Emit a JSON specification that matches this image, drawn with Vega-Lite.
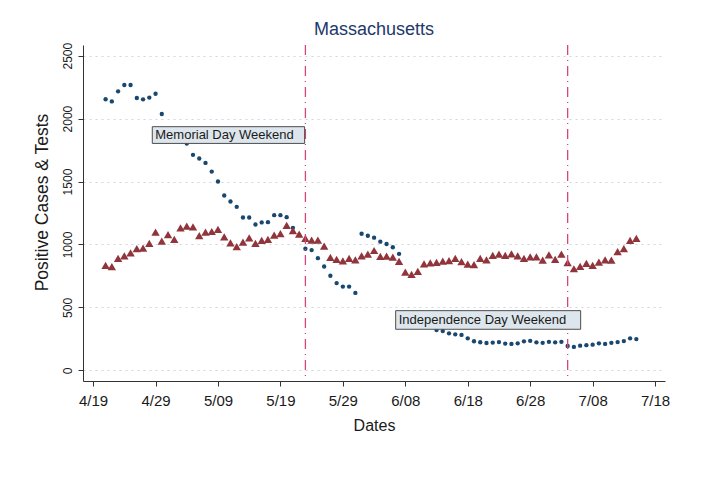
{
  "$schema": "https://vega.github.io/schema/vega-lite/v6.json",
  "width": 582,
  "height": 336,
  "autosize": {"type": "none"},
  "padding": {"left": 83, "top": 45, "right": 51, "bottom": 103},
  "background": "white",
  "config": {"view": {"stroke": null}, "font": "Liberation Sans"},
  "title": {"text": "Massachusetts", "fontSize": 18, "font": "Liberation Sans", "fontWeight": "normal", "color": "#22386a", "anchor": "middle", "offset": 3},
  "datasets": {
    "series": [
      {"d": "2020/04/21", "s": "cases", "v": 2154},
      {"d": "2020/04/22", "s": "cases", "v": 2137},
      {"d": "2020/04/23", "s": "cases", "v": 2217},
      {"d": "2020/04/24", "s": "cases", "v": 2267},
      {"d": "2020/04/25", "s": "cases", "v": 2267},
      {"d": "2020/04/26", "s": "cases", "v": 2164},
      {"d": "2020/04/27", "s": "cases", "v": 2153},
      {"d": "2020/04/28", "s": "cases", "v": 2167},
      {"d": "2020/04/29", "s": "cases", "v": 2198},
      {"d": "2020/04/30", "s": "cases", "v": 2037},
      {"d": "2020/05/04", "s": "cases", "v": 1802},
      {"d": "2020/05/05", "s": "cases", "v": 1712},
      {"d": "2020/05/06", "s": "cases", "v": 1683},
      {"d": "2020/05/07", "s": "cases", "v": 1648},
      {"d": "2020/05/08", "s": "cases", "v": 1579},
      {"d": "2020/05/09", "s": "cases", "v": 1500},
      {"d": "2020/05/10", "s": "cases", "v": 1389},
      {"d": "2020/05/11", "s": "cases", "v": 1341},
      {"d": "2020/05/12", "s": "cases", "v": 1299},
      {"d": "2020/05/13", "s": "cases", "v": 1214},
      {"d": "2020/05/14", "s": "cases", "v": 1214},
      {"d": "2020/05/15", "s": "cases", "v": 1159},
      {"d": "2020/05/16", "s": "cases", "v": 1175},
      {"d": "2020/05/17", "s": "cases", "v": 1177},
      {"d": "2020/05/18", "s": "cases", "v": 1233},
      {"d": "2020/05/19", "s": "cases", "v": 1233},
      {"d": "2020/05/20", "s": "cases", "v": 1217},
      {"d": "2020/05/21", "s": "cases", "v": 1132},
      {"d": "2020/05/22", "s": "cases", "v": 1074},
      {"d": "2020/05/23", "s": "cases", "v": 966},
      {"d": "2020/05/24", "s": "cases", "v": 955},
      {"d": "2020/05/25", "s": "cases", "v": 891},
      {"d": "2020/05/26", "s": "cases", "v": 825},
      {"d": "2020/05/27", "s": "cases", "v": 751},
      {"d": "2020/05/28", "s": "cases", "v": 693},
      {"d": "2020/05/29", "s": "cases", "v": 665},
      {"d": "2020/05/30", "s": "cases", "v": 665},
      {"d": "2020/05/31", "s": "cases", "v": 615},
      {"d": "2020/06/01", "s": "cases", "v": 1085},
      {"d": "2020/06/02", "s": "cases", "v": 1069},
      {"d": "2020/06/03", "s": "cases", "v": 1054},
      {"d": "2020/06/04", "s": "cases", "v": 1022},
      {"d": "2020/06/05", "s": "cases", "v": 1004},
      {"d": "2020/06/06", "s": "cases", "v": 978},
      {"d": "2020/06/07", "s": "cases", "v": 925},
      {"d": "2020/06/13", "s": "cases", "v": 320},
      {"d": "2020/06/14", "s": "cases", "v": 312},
      {"d": "2020/06/15", "s": "cases", "v": 294},
      {"d": "2020/06/16", "s": "cases", "v": 286},
      {"d": "2020/06/17", "s": "cases", "v": 281},
      {"d": "2020/06/18", "s": "cases", "v": 254},
      {"d": "2020/06/19", "s": "cases", "v": 231},
      {"d": "2020/06/20", "s": "cases", "v": 223},
      {"d": "2020/06/21", "s": "cases", "v": 217},
      {"d": "2020/06/22", "s": "cases", "v": 220},
      {"d": "2020/06/23", "s": "cases", "v": 224},
      {"d": "2020/06/24", "s": "cases", "v": 212},
      {"d": "2020/06/25", "s": "cases", "v": 210},
      {"d": "2020/06/26", "s": "cases", "v": 214},
      {"d": "2020/06/27", "s": "cases", "v": 230},
      {"d": "2020/06/28", "s": "cases", "v": 234},
      {"d": "2020/06/29", "s": "cases", "v": 222},
      {"d": "2020/06/30", "s": "cases", "v": 218},
      {"d": "2020/07/01", "s": "cases", "v": 226},
      {"d": "2020/07/02", "s": "cases", "v": 222},
      {"d": "2020/07/03", "s": "cases", "v": 226},
      {"d": "2020/07/04", "s": "cases", "v": 193},
      {"d": "2020/07/05", "s": "cases", "v": 186},
      {"d": "2020/07/06", "s": "cases", "v": 196},
      {"d": "2020/07/07", "s": "cases", "v": 200},
      {"d": "2020/07/08", "s": "cases", "v": 204},
      {"d": "2020/07/09", "s": "cases", "v": 214},
      {"d": "2020/07/10", "s": "cases", "v": 210},
      {"d": "2020/07/11", "s": "cases", "v": 218},
      {"d": "2020/07/12", "s": "cases", "v": 224},
      {"d": "2020/07/13", "s": "cases", "v": 232},
      {"d": "2020/07/14", "s": "cases", "v": 254},
      {"d": "2020/07/15", "s": "cases", "v": 248},
      {"d": "2020/04/21", "s": "tests", "v": 833},
      {"d": "2020/04/22", "s": "tests", "v": 823},
      {"d": "2020/04/23", "s": "tests", "v": 889},
      {"d": "2020/04/24", "s": "tests", "v": 910},
      {"d": "2020/04/25", "s": "tests", "v": 934},
      {"d": "2020/04/26", "s": "tests", "v": 966},
      {"d": "2020/04/27", "s": "tests", "v": 971},
      {"d": "2020/04/28", "s": "tests", "v": 1008},
      {"d": "2020/04/29", "s": "tests", "v": 1098},
      {"d": "2020/04/30", "s": "tests", "v": 1026},
      {"d": "2020/05/01", "s": "tests", "v": 1079},
      {"d": "2020/05/02", "s": "tests", "v": 1040},
      {"d": "2020/05/03", "s": "tests", "v": 1132},
      {"d": "2020/05/04", "s": "tests", "v": 1145},
      {"d": "2020/05/05", "s": "tests", "v": 1140},
      {"d": "2020/05/06", "s": "tests", "v": 1071},
      {"d": "2020/05/07", "s": "tests", "v": 1098},
      {"d": "2020/05/08", "s": "tests", "v": 1103},
      {"d": "2020/05/09", "s": "tests", "v": 1119},
      {"d": "2020/05/10", "s": "tests", "v": 1061},
      {"d": "2020/05/11", "s": "tests", "v": 1013},
      {"d": "2020/05/12", "s": "tests", "v": 982},
      {"d": "2020/05/13", "s": "tests", "v": 1018},
      {"d": "2020/05/14", "s": "tests", "v": 1053},
      {"d": "2020/05/15", "s": "tests", "v": 1008},
      {"d": "2020/05/16", "s": "tests", "v": 1032},
      {"d": "2020/05/17", "s": "tests", "v": 1040},
      {"d": "2020/05/18", "s": "tests", "v": 1074},
      {"d": "2020/05/19", "s": "tests", "v": 1087},
      {"d": "2020/05/20", "s": "tests", "v": 1151},
      {"d": "2020/05/21", "s": "tests", "v": 1109},
      {"d": "2020/05/22", "s": "tests", "v": 1082},
      {"d": "2020/05/23", "s": "tests", "v": 1048},
      {"d": "2020/05/24", "s": "tests", "v": 1034},
      {"d": "2020/05/25", "s": "tests", "v": 1034},
      {"d": "2020/05/26", "s": "tests", "v": 987},
      {"d": "2020/05/27", "s": "tests", "v": 897},
      {"d": "2020/05/28", "s": "tests", "v": 881},
      {"d": "2020/05/29", "s": "tests", "v": 870},
      {"d": "2020/05/30", "s": "tests", "v": 889},
      {"d": "2020/05/31", "s": "tests", "v": 878},
      {"d": "2020/06/01", "s": "tests", "v": 910},
      {"d": "2020/06/02", "s": "tests", "v": 923},
      {"d": "2020/06/03", "s": "tests", "v": 952},
      {"d": "2020/06/04", "s": "tests", "v": 905},
      {"d": "2020/06/05", "s": "tests", "v": 907},
      {"d": "2020/06/06", "s": "tests", "v": 899},
      {"d": "2020/06/07", "s": "tests", "v": 865},
      {"d": "2020/06/08", "s": "tests", "v": 780},
      {"d": "2020/06/09", "s": "tests", "v": 762},
      {"d": "2020/06/10", "s": "tests", "v": 786},
      {"d": "2020/06/11", "s": "tests", "v": 845},
      {"d": "2020/06/12", "s": "tests", "v": 854},
      {"d": "2020/06/13", "s": "tests", "v": 858},
      {"d": "2020/06/14", "s": "tests", "v": 868},
      {"d": "2020/06/15", "s": "tests", "v": 871},
      {"d": "2020/06/16", "s": "tests", "v": 889},
      {"d": "2020/06/17", "s": "tests", "v": 863},
      {"d": "2020/06/18", "s": "tests", "v": 844},
      {"d": "2020/06/19", "s": "tests", "v": 839},
      {"d": "2020/06/20", "s": "tests", "v": 889},
      {"d": "2020/06/21", "s": "tests", "v": 878},
      {"d": "2020/06/22", "s": "tests", "v": 913},
      {"d": "2020/06/23", "s": "tests", "v": 923},
      {"d": "2020/06/24", "s": "tests", "v": 913},
      {"d": "2020/06/25", "s": "tests", "v": 926},
      {"d": "2020/06/26", "s": "tests", "v": 910},
      {"d": "2020/06/27", "s": "tests", "v": 889},
      {"d": "2020/06/28", "s": "tests", "v": 902},
      {"d": "2020/06/29", "s": "tests", "v": 902},
      {"d": "2020/06/30", "s": "tests", "v": 875},
      {"d": "2020/07/01", "s": "tests", "v": 918},
      {"d": "2020/07/02", "s": "tests", "v": 881},
      {"d": "2020/07/03", "s": "tests", "v": 923},
      {"d": "2020/07/04", "s": "tests", "v": 855},
      {"d": "2020/07/05", "s": "tests", "v": 807},
      {"d": "2020/07/06", "s": "tests", "v": 825},
      {"d": "2020/07/07", "s": "tests", "v": 849},
      {"d": "2020/07/08", "s": "tests", "v": 833},
      {"d": "2020/07/09", "s": "tests", "v": 860},
      {"d": "2020/07/10", "s": "tests", "v": 878},
      {"d": "2020/07/11", "s": "tests", "v": 875},
      {"d": "2020/07/12", "s": "tests", "v": 944},
      {"d": "2020/07/13", "s": "tests", "v": 966},
      {"d": "2020/07/14", "s": "tests", "v": 1032},
      {"d": "2020/07/15", "s": "tests", "v": 1048}
    ],
    "events": [
      {"d": "2020/05/23"},
      {"d": "2020/07/04"}
    ],
    "notes": [
      {"start": "2020/04/28 11:30", "end": "2020/05/22 21:00", "top": 1936, "bottom": 1803, "mid": 1870, "label": "Memorial Day Weekend"},
      {"start": "2020/06/06 11:00", "end": "2020/07/06 02:00", "top": 474, "bottom": 326, "mid": 400, "label": "Independence Day Weekend"}
    ]
  },
  "layer": [
    {
      "data": {"name": "series"},
      "mark": {"type": "point", "filled": true, "opacity": 1},
      "encoding": {
        "x": {
          "field": "d", "type": "temporal",
          "scale": {"domain": [{"year": 2020, "month": "apr", "date": 17, "hours": 9, "minutes": 10}, {"year": 2020, "month": "jul", "date": 19, "hours": 14, "minutes": 10}], "nice": false},
          "axis": {
            "title": "Dates", "titleFont": "Liberation Sans", "titleFontSize": 16, "titleFontWeight": "normal", "titleColor": "#1a1a1a",
            "titleBaseline": "alphabetic", "titleY": 49,
            "values": [
              {"year": 2020, "month": "apr", "date": 19},
              {"year": 2020, "month": "apr", "date": 29},
              {"year": 2020, "month": "may", "date": 9},
              {"year": 2020, "month": "may", "date": 19},
              {"year": 2020, "month": "may", "date": 29},
              {"year": 2020, "month": "jun", "date": 8},
              {"year": 2020, "month": "jun", "date": 18},
              {"year": 2020, "month": "jun", "date": 28},
              {"year": 2020, "month": "jul", "date": 8},
              {"year": 2020, "month": "jul", "date": 18}
            ],
            "format": "%-m/%d", "labelFont": "Liberation Sans", "labelFontSize": 15, "labelColor": "#1a1a1a",
            "labelPadding": 7, "tickSize": 5, "tickColor": "#333333", "domainColor": "#333333",
            "labelFlush": false, "labelOverlap": false, "grid": false
          }
        },
        "y": {
          "field": "v", "type": "quantitative",
          "scale": {"domain": [-85, 2585], "nice": false, "zero": false},
          "axis": {
            "title": "Positive Cases & Tests", "titleFont": "Liberation Sans", "titleFontSize": 17.5, "titleFontWeight": "normal", "titleColor": "#1a1a1a",
            "titleAngle": 270, "titleAlign": "center", "titleBaseline": "bottom", "titleX": -32, "titleY": 157,
            "values": [0, 500, 1000, 1500, 2000, 2500], "format": "d",
            "labelAngle": 270, "labelAlign": "center", "labelBaseline": "bottom", "labelPadding": 4,
            "labelFont": "Liberation Sans", "labelFontSize": 12, "labelColor": "#1a1a1a",
            "tickSize": 5, "tickColor": "#333333", "domainColor": "#333333",
            "grid": true, "gridColor": "#cdd6e0", "gridDash": [2, 4], "gridWidth": 1,
            "labelFlush": false, "labelOverlap": false
          }
        },
        "shape": {"field": "s", "type": "nominal", "scale": {"domain": ["cases", "tests"], "range": ["circle", "triangle-up"]}, "legend": null},
        "color": {"field": "s", "type": "nominal", "scale": {"domain": ["cases", "tests"], "range": ["#1a476f", "#90353b"]}, "legend": null},
        "size": {"field": "s", "type": "nominal", "scale": {"domain": ["cases", "tests"], "range": [19, 70]}, "legend": null}
      }
    },
    {
      "data": {"name": "events"},
      "mark": {"type": "rule", "color": "#d6457c", "strokeWidth": 1.3, "strokeDash": [10, 5, 1, 5]},
      "encoding": {
        "x": {"field": "d", "type": "temporal", "scale": {"domain": [{"year": 2020, "month": "apr", "date": 17, "hours": 9, "minutes": 10}, {"year": 2020, "month": "jul", "date": 19, "hours": 14, "minutes": 10}], "nice": false}}
      }
    },
    {
      "data": {"name": "notes"},
      "mark": {"type": "rect", "fill": "#dde6ec", "stroke": "#4d4d4d", "strokeWidth": 1},
      "encoding": {
        "x": {"field": "start", "type": "temporal"},
        "x2": {"field": "end"},
        "y": {"field": "top", "type": "quantitative"},
        "y2": {"field": "bottom"}
      }
    },
    {
      "data": {"name": "notes"},
      "mark": {"type": "text", "align": "left", "baseline": "middle", "dx": 3, "font": "Liberation Sans", "fontSize": 13, "color": "#1a1a1a"},
      "encoding": {
        "x": {"field": "start", "type": "temporal"},
        "y": {"field": "mid", "type": "quantitative"},
        "text": {"field": "label"}
      }
    }
  ]
}
